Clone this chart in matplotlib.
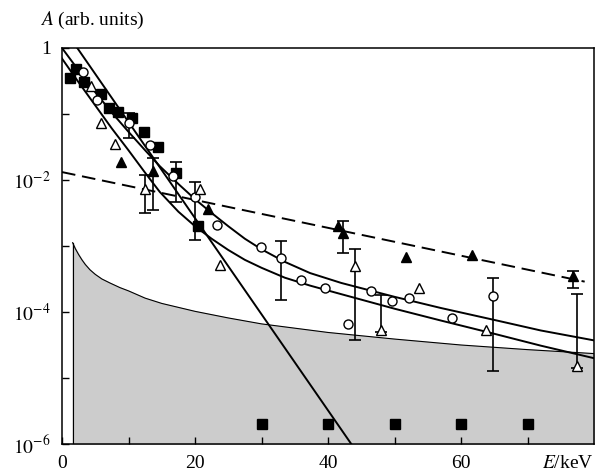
import matplotlib
matplotlib.use("Agg")
import matplotlib.pyplot as plt
import numpy as np

plt.rcParams['font.family'] = ['Liberation Serif', 'DejaVu Serif']
plt.rcParams['mathtext.fontset'] = 'stix'

# values, amplitudes given as log10(A)
sq_E = [1.2, 2.1, 3.35, 5.8, 7.1, 8.4, 10.6, 12.4, 14.5, 17.2, 20.5]
sq_logA = [-0.45, -0.32, -0.51, -0.70, -0.91, -0.97, -1.06, -1.28, -1.50, -1.90, -2.70]
sq_low_E = [30, 40, 50, 60, 70]
sq_low_logA = [-5.69, -5.69, -5.69, -5.69, -5.69]

ci_E = [3.2, 5.3, 10.0, 13.3, 16.7, 20.0, 23.3, 29.9, 33.0, 36.0, 39.5, 43.0, 46.5, 49.6, 52.2, 58.6, 64.8]
ci_logA = [-0.37, -0.79, -1.13, -1.47, -1.94, -2.25, -2.68, -3.02, -3.18, -3.52, -3.64, -4.18, -3.68, -3.84, -3.79, -4.09, -3.75]

ot_E = [4.3, 5.9, 7.9, 12.5, 20.8, 23.7, 44.0, 48.0, 53.7, 63.7, 77.5]
ot_logA = [-0.58, -1.13, -1.46, -2.14, -2.14, -3.29, -3.30, -4.27, -3.63, -4.27, -4.82]

ft_E = [8.8, 13.7, 22.0, 41.5, 42.3, 51.8, 61.6, 76.8]
ft_logA = [-1.72, -1.86, -2.44, -2.70, -2.80, -3.17, -3.14, -3.46]

# error bars: E, centre, top, bottom (log10)
err_E = [10.0, 12.5, 13.7, 17.2, 20.0, 33.0, 42.3, 44.0, 48.0, 64.8, 76.8, 77.5]
err_mid = [-1.13, -2.14, -1.86, -1.90, -2.25, -3.18, -2.80, -3.30, -4.27, -3.75, -3.46, -4.82]
err_top = [-0.98, -1.92, -1.67, -1.73, -2.03, -2.92, -2.62, -3.05, -3.74, -3.49, -3.38, -3.73]
err_bot = [-1.36, -2.50, -2.46, -2.33, -2.91, -3.82, -3.10, -4.42, -4.30, -4.89, -3.63, -4.85]

# fitted lines
steep_E = [2.3, 43.5]
steep_logA = [0.0, -6.0]
dash_E = [0.0, 78.6]
dash_logA = [-1.88, -3.54]
up_E = [0, 2.5, 5, 7.5, 10, 12.5, 14.7, 17.5, 20, 22.5, 25, 27.5, 30, 33.5, 37.3, 42, 50, 57, 65, 72, 80]
up_logA = [0, -0.34, -0.67, -0.98, -1.27, -1.55, -1.79, -2.06, -2.29, -2.50, -2.70, -2.89, -3.05, -3.24, -3.41, -3.56, -3.77, -3.94, -4.12, -4.28, -4.43]
lo_E = [0, 2.5, 5, 7.5, 10, 12.5, 14.7, 17.5, 20, 22.5, 25, 27.5, 30, 33.5, 37.3, 42, 50, 57, 65, 72, 80]
lo_logA = [-0.16, -0.52, -0.87, -1.22, -1.55, -1.89, -2.18, -2.48, -2.70, -2.89, -3.06, -3.21, -3.33, -3.48, -3.60, -3.73, -3.95, -4.13, -4.33, -4.51, -4.70]

# grey background region
bg_E = [1.6, 2.0, 2.5, 3.0, 3.5, 4.2, 5, 6, 7.2, 8.7, 10, 12.5, 15, 20, 25, 30, 40, 50, 60, 70, 80]
bg_logA = [-2.95, -3.04, -3.13, -3.21, -3.28, -3.36, -3.43, -3.50, -3.56, -3.63, -3.68, -3.79, -3.87, -3.99, -4.09, -4.18, -4.31, -4.41, -4.50, -4.57, -4.63]

p = lambda v: 10.0 ** np.asarray(v)

fig = plt.figure(figsize=(6.03, 4.75), dpi=100)
ax = fig.add_axes([62 / 603, 1 - 444 / 475, 532 / 603, 396 / 475])

ax.fill_between(bg_E, p(bg_logA), 1e-6, color='#cccccc', zorder=1)
ax.plot(bg_E, p(bg_logA), color='k', lw=0.8, zorder=2)
ax.plot([bg_E[0], bg_E[0]], [1e-6, p(bg_logA[0])], color='k', lw=0.8, zorder=2)

ax.plot(steep_E, p(steep_logA), color='k', lw=1.4, zorder=3)
ax.plot(up_E, p(up_logA), color='k', lw=1.4, zorder=3)
ax.plot(lo_E, p(lo_logA), color='k', lw=1.4, zorder=3)
ax.plot(dash_E, p(dash_logA), color='k', lw=1.4, ls=(0, (7, 3.5)), zorder=3)

mid = p(err_mid)
ax.errorbar(err_E, mid, yerr=[mid - p(err_bot), p(err_top) - mid], fmt='none',
            ecolor='k', elinewidth=1.2, capsize=4, capthick=1.2, zorder=4)

ax.plot(sq_E, p(sq_logA), 's', ms=6.5, color='k', zorder=5)
ax.plot(sq_low_E, p(sq_low_logA), 's', ms=6.5, color='k', zorder=5)
ax.plot(ci_E, p(ci_logA), 'o', ms=6.5, mfc='white', mec='k', mew=1.0, zorder=5)
ax.plot(ot_E, p(ot_logA), '^', ms=7.5, mfc='white', mec='k', mew=1.0, zorder=5)
ax.plot(ft_E, p(ft_logA), '^', ms=7.5, color='k', zorder=5)

ax.set_yscale('log')
ax.set_xlim(0, 80)
ax.set_ylim(1e-6, 1)
ax.set_xticks(range(0, 80, 10))
ax.set_xticklabels(['0', '', '20', '', '40', '', '60', ''])
ax.set_yticks([1e-6, 1e-5, 1e-4, 1e-3, 1e-2, 1e-1, 1])
ax.set_yticklabels([r'$10^{-6}$', '', r'$10^{-4}$', '', r'$10^{-2}$', '', '1'])
ax.minorticks_off()
ax.tick_params(direction='in', length=5, width=1.0, labelsize=14, pad=8,
               top=False, right=False)
for s in ax.spines.values():
    s.set_linewidth(1.1)

fig.text(594 / 603, 1 - 463 / 475, r'$E$/keV', ha='right', va='center', fontsize=14)
fig.text(40 / 603, 1 - 20 / 475, r'$A$ (arb. units)', ha='left', va='center', fontsize=14)

fig.savefig('out.png', dpi=100)
